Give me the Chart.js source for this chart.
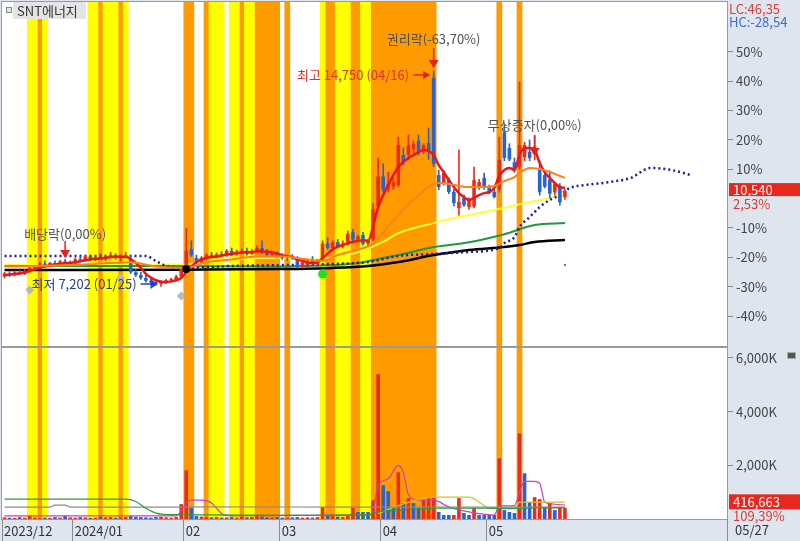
<!DOCTYPE html>
<html><head><meta charset="utf-8">
<script src="https://cdn.jsdelivr.net/npm/chart.js@4.4.1/dist/chart.umd.min.js"></script>
<style>
html,body{margin:0;padding:0;background:#dfe5ee;}
#wrap{position:relative;width:800px;height:541px;overflow:hidden;background:#dfe5ee;}
canvas{position:absolute;left:0;}
#c1{top:0;} #c2{top:347px;}
.lbl{position:absolute;font-family:"Noto Sans CJK KR",sans-serif;font-size:13px;white-space:nowrap;line-height:14px;}
</style></head><body>
<div id="wrap">
<canvas id="c1" width="800" height="347"></canvas>
<canvas id="c2" width="800" height="194"></canvas>
<div style="position:absolute;left:6px;top:7px;width:4px;height:4px;border:1px solid #8a8a8a;background:#e4e4e4"></div>
<div class="lbl" style="left:13px;top:2px;width:73px;height:17px;line-height:17px;background:#e4e4e4;color:#333;padding-left:4px;box-sizing:border-box">SNT에너지</div>
<div class="lbl" style="left:729px;top:2px;color:#d9403a">LC:46,35</div>
<div class="lbl" style="left:729px;top:15px;color:#3c6ccc">HC:-28,54</div>
<div class="lbl" style="left:735px;top:523px;color:#333">05/27</div>
<div style="position:absolute;left:787px;top:352px;width:7px;height:5px;background:#555;border:1px solid #aaa"></div>
</div>
<script>
// ---------------- data ----------------
const monthLabels = ["2023/12","2024/01","02","03","04","05"];
const monthStart  = [0,14,36,55,75,96];   // slot index of first trading day of each month

const open = [7550,7650,7600,7700,7650,7750,7850,7900,8000,7950,8020,7980,8080,8000,
 8050,8150,8100,8250,8150,8220,8200,8250,8300,8200,8250,8150,7700,7600,7500,7400,7350,7300,7350,7420,7450,7550,7850,8500,
 8200,8050,8200,8300,8250,8330,8300,8450,8330,8420,8450,8350,8450,8550,8400,8300,8380,
 8250,8200,8250,8200,7900,7950,8100,8000,8150,8700,8550,8750,8600,8700,9100,8850,9000,8700,
 8850,10000,11050,10600,10700,10750,11800,11800,12000,12300,11950,12220,14500,
 11100,10820,10930,10510,9950,10300,9980,10000,10650,11000,10650,10510,10600,12600,12050,11550,11380,11730,11910,11850,11300,11100,10950,10500,10700,10330];
const high = [7700,7720,7750,7780,7800,7900,7950,8050,8100,8050,8100,8120,8150,8100,
 8200,8250,8300,8300,8280,8350,8300,8400,8350,8300,8400,8300,7800,7700,7600,7500,7450,7400,7450,7500,7600,7900,9250,8800,
 8300,8250,8350,8400,8380,8420,8500,8550,8480,8520,8550,8500,8620,8800,8500,8420,8420,
 8350,8300,8320,8250,8100,8150,8250,8150,8800,8900,8800,8850,8800,9150,9200,9000,9100,8850,
 10100,11700,11500,11200,11000,12430,12050,12500,12300,12500,12200,12750,14750,
 11280,11250,11000,10600,11980,10400,10300,11380,10950,11170,10750,10600,12430,12850,12200,11700,14360,12250,12330,12500,11600,11200,11250,10850,10800,10600];
const low = [7500,7550,7580,7620,7620,7700,7800,7850,7900,7900,7950,7950,7950,7950,
 8000,8050,8080,8100,8100,8150,8100,8200,8150,8100,8200,7650,7550,7450,7350,7280,7250,7202,7300,7350,7400,7500,7800,8250,
 8000,8000,8150,8200,8200,8250,8250,8280,8300,8350,8300,8320,8400,8350,8250,8250,8200,
 8150,8100,8150,7850,7850,7850,7950,7900,8100,8500,8500,8550,8550,8650,8800,8750,8650,8600,
 8800,9950,10500,10500,10600,10700,11450,11630,11800,11800,11850,11650,11400,
 10580,10750,10450,10020,9700,10000,9900,9950,10600,10600,10450,10300,10500,11600,11600,11200,11300,11600,11600,11630,10400,10650,10300,10400,10050,10250];
const close = [7650,7600,7700,7650,7750,7850,7900,8000,7950,8020,7980,8080,8000,8050,
 8150,8100,8250,8150,8220,8200,8250,8300,8200,8250,8280,7700,7600,7500,7400,7350,7300,7350,7420,7450,7550,7850,8450,8300,
 8050,8200,8300,8250,8330,8300,8450,8330,8420,8450,8350,8450,8550,8400,8300,8380,8250,
 8200,8250,8200,7900,8050,8100,8000,8100,8700,8550,8750,8600,8700,9050,8850,8950,8700,8800,
 9900,11050,10600,10800,10850,12150,11520,12150,12200,11900,12150,11980,11500,
 10680,11170,10510,10120,10160,10050,10230,10930,10860,10650,10470,10330,11630,11700,11650,11280,12150,12150,11700,12100,10500,10700,10450,10800,10150,10540];

// short moving-average line (red), one reading per trading day
const redLine = [7600,7620,7640,7660,7690,7750,7800,7860,7900,7940,7970,8000,8010,8020,
 8050,8080,8120,8150,8170,8180,8200,8230,8240,8240,8250,8150,8030,7850,7640,7510,7420,7370,7360,7380,7420,7500,7700,7900,
 8050,8150,8200,8230,8250,8280,8320,8340,8370,8390,8400,8400,8440,8430,8420,8400,8350,
 8300,8260,8230,8150,8100,8050,8020,8040,8200,8350,8500,8600,8650,8720,8760,8800,8820,8800,
 9300,9980,10400,10750,11100,11380,11560,11700,11800,11900,11980,11940,11800,
 11450,11200,10930,10680,10470,10330,10230,10300,10400,10470,10500,10650,11070,11280,11350,11280,11800,12050,12050,11980,11520,11200,11000,10820,10680,10650];
// longer averages read at selected days: [slot, price]
const orangeLine = [[0,7900],[14,7950],[25,8050],[30,7900],[36,7850],[40,8050],[45,8150],[50,8250],[55,8250],[60,8150],[63,8100],[66,8300],[70,8500],[73,8700],[76,9300],[79,9900],[82,10400],[85,10800],[86,10820],[88,10790],[90,10720],[92,10680],[95,10680],[97,10720],[99,10890],[101,11030],[102,11170],[104,11350],[106,11310],[108,11210],[110,11070],[111,11000]];
const yellowLine = [[0,7950],[14,7980],[30,7950],[36,7980],[45,8150],[55,8200],[62,8150],[66,8250],[70,8400],[75,8760],[78,9070],[85,9420],[90,9630],[97,9880],[104,10160],[109,10330],[111,10400]];
const greenLine  = [[0,7920],[30,7920],[55,7900],[65,7950],[70,8020],[75,8200],[78,8300],[85,8580],[92,8750],[99,9030],[105,9350],[111,9420]];
const blackLine  = [[0,7780],[36,7790],[55,7810],[65,7850],[72,7920],[78,8060],[85,8300],[92,8480],[99,8580],[102,8650],[105,8760],[111,8830]];
const leadLine   = [[0,8270],[28,8270],[30,8090],[32,7920],[35,7850],[45,7920],[55,7950],[65,7990],[72,8060],[78,8270],[85,8340],[92,8410],[98,8550],[99,8720],[101,8930],[102,9280],[104,9630],[106,9980],[108,10230],[110,10400],[112,10650],[115,10750],[120,10860],[124,11000],[128,11350],[132,11280],[136,11100]];

// signal markers [slot, price]
const grayMarks  = [[5,7078],[23,7500],[35,6868]];
const blackMarks = [[36,7813]];
const greenMarks = [[63,7638]];
const pinkMarks  = [[111,7953]];

// highlighted days (background stripes)
const yellowDays = [5,6,8,17,18,20,21,22,24,41,42,43,45,46,48,49,63,66,67,68,71,72];
const orangeDays = [7,19,23,36,37,40,47,50,51,52,53,54,56,64,65,69,70,73,74,75,76,77,78,79,80,81,82,83,84,85,98,102];

// volume in thousands of shares
const volK = [60,50,40,70,50,110,60,40,50,40,70,50,110,60,
 50,70,60,40,50,80,60,70,50,60,70,110,80,70,60,50,70,80,60,50,70,
 555,1815,407,
 110,90,70,60,80,50,60,70,50,80,60,70,110,90,60,50,70,
 50,40,60,70,50,60,50,70,
 444,150,110,90,80,110,407,260,260,260,700,
 5400,1260,1037,444,1740,593,778,593,407,704,778,815,
 260,150,150,150,778,222,150,407,150,150,150,150,2260,333,260,222,3185,1704,630,815,740,444,593,333,444,416.663];
const volDir = ("rbrbrrrrbrbrbr"+"rbrbrbrrbrr"+"bbbbbb"+"rrrrrr"+"b"+"brrbrbrbrrbrrbbrb"+"brbbrrbrrbrbrrrbbbr"+"rbbbrbrbbrrrbbbrrbbrbbbbrbbbrbbrrbrbrr").split('');
const volGreen = [[0,740],[24,740],[26,650],[28,400],[30,220],[33,160],[40,150],[60,140],[72,150],[74,260],[78,330],[85,400],[95,400],[100,390],[105,410],[111,420]];
const volGray  = [[0,444],[9,444],[10,520],[12,520],[13,444],[35,444],[36,450],[72,444],[85,444],[111,444]];
const volPink  = [[0,120],[34,120],[35,300],[36,600],[37,700],[39,700],[41,600],[43,200],[45,120],[72,150],[73,300],[74,1260],[76,1500],[78,2000],[79,1740],[80,900],[82,700],[85,700],[88,450],[91,300],[94,200],[97,150],[98,480],[101,500],[102,1000],[103,1400],[105,1400],[106,1333],[107,630],[109,550],[111,520]];
const volOlive = [[74,200],[78,500],[85,815],[92,815],[95,500],[96,407],[101,407],[102,630],[111,630]];

const BASE = 10280;                     // 0% reference price of right axis
const PCT_TICKS = [-40,-30,-20,-10,10,20,30,40,50];
const PRICE_MIN = 5119, PRICE_MAX = 17157;
const VOL_MAX = 6370, VOL_TICKS = [2000,4000,6000];
const X_MIN = -0.5, X_MAX = 143.1;
const CHANGE_TEXT = "2,53%";
const VOL_CHANGE_TEXT = "109,39%";

const downNotes = [
  {slot:85, tip:14848, textAt:15863, text:"권리락(-63,70%)"},
  {slot:105, tip:11768, textAt:12853, text:"무상증자(0,00%)"},
  {slot:12, tip:8198, textAt:9038, text:"배당락(0,00%)"}
];
const sideNotes = [
  {slot:85, price:14603, text:"최고 14,750 (04/16)", kind:"hi"},
  {slot:31, price:7288, text:"최저 7,202 (01/25)", kind:"lo"}
];

// ---------------- styles ----------------
const UP = '#ee2a1c', DOWN = '#2a62cf', YEL = '#ffff00', ORG = '#ff9a00';
const FONT = '"Noto Sans CJK KR", sans-serif';
Chart.defaults.font.family = FONT;
Chart.defaults.font.size = 13;
Chart.defaults.color = '#444';

const N = close.length;
const idx = [...Array(N).keys()];
const pts = arr => arr.map(p => ({x:p[0], y:p[1]}));
const candleCol = idx.map(i => close[i] >= open[i] ? UP : DOWN);

function stripeSets(){
  return [
    {type:'bar', data:yellowDays.map(s=>({x:s,y:1})), yAxisID:'yS', backgroundColor:YEL, borderWidth:0, barPercentage:1, categoryPercentage:1, grouped:false, order:100},
    {type:'bar', data:orangeDays.map(s=>({x:s,y:1})), yAxisID:'yS', backgroundColor:ORG, borderWidth:0, barPercentage:1, categoryPercentage:1, grouped:false, order:100}
  ];
}
const xTicks = s => { s.ticks = monthStart.map(m => ({value: m - 0.5})); };
const fitY = s => { s.width = 73; s.paddingTop = 0; s.paddingBottom = 0; };
const fitX = h => s => { s.height = h; s.paddingLeft = 0; s.paddingRight = 0; };

const frame = {
  id:'frame',
  beforeDraw(c){ const a=c.chartArea, g=c.ctx; g.save(); g.fillStyle='#fff'; g.fillRect(a.left,a.top,a.right-a.left,a.bottom-a.top); g.restore(); },
  afterDraw(c){ const a=c.chartArea, g=c.ctx; g.save(); g.strokeStyle='#9a9a9a'; g.lineWidth=1;
    g.strokeRect(a.left-0.5,a.top-0.5,a.right-a.left+1,a.bottom-a.top+1); g.restore(); }
};

function lineSet(data, color, width, order, extra){
  return Object.assign({type:'line', data, borderColor:color, borderWidth:width, pointRadius:0, cubicInterpolationMode:'monotone', fill:false, yAxisID:'y', order}, extra||{});
}
function markSet(data, style, r, color, order){
  return {type:'line', data:pts(data), showLine:false, pointStyle:style, pointRadius:r, pointBackgroundColor:color, pointBorderColor:color, pointBorderWidth:0, yAxisID:'y', order};
}

const notes = {
  id:'notes',
  afterDatasetsDraw(c){
    const g=c.ctx, x=c.scales.x, y=c.scales.y;
    g.save(); g.font='13px '+FONT; g.textBaseline='middle';
    downNotes.forEach(n=>{
      const px=x.getPixelForValue(n.slot), tip=y.getPixelForValue(n.tip), ty=y.getPixelForValue(n.textAt);
      const top=Math.max(tip-20, ty+7);
      g.strokeStyle='#e8201a'; g.lineWidth=1.5;
      g.beginPath(); g.moveTo(px,top); g.lineTo(px,tip-6); g.stroke();
      g.fillStyle='#e8201a'; g.beginPath(); g.moveTo(px-5,tip-8); g.lineTo(px+5,tip-8); g.lineTo(px,tip); g.closePath(); g.fill();
      g.fillStyle='#505050'; g.textAlign='center'; g.fillText(n.text,px,ty);
    });
    sideNotes.forEach(n=>{
      const tip=x.getPixelForValue(n.slot)-3.5, py=y.getPixelForValue(n.price);
      const col = n.kind==='hi' ? '#e8201a' : '#1f3fd6';
      g.strokeStyle=col; g.lineWidth=1.5;
      g.beginPath(); g.moveTo(tip-17,py); g.lineTo(tip-5,py); g.stroke();
      g.fillStyle=col; g.beginPath();
      const h = n.kind==='hi' ? 4 : 5;
      g.moveTo(tip-7,py-h); g.lineTo(tip,py); g.lineTo(tip-7,py+h); g.closePath(); g.fill();
      g.fillStyle = n.kind==='hi' ? '#e0302a' : '#27408f';
      g.textAlign='right'; g.fillText(n.text, tip-21, py);
    });
    g.restore();
  },
  afterDraw(c){
    const g=c.ctx, y=c.scales.y, a=c.chartArea;
    const yc=y.getPixelForValue(close[N-1]);
    g.save(); g.font='13px '+FONT; g.textBaseline='middle'; g.textAlign='left';
    g.fillStyle='#e8281e'; g.fillRect(a.right+2, yc-8, 71, 13);
    g.fillStyle='#fff'; g.fillText(close[N-1].toLocaleString('en-US'), a.right+6, yc-1.5);
    g.fillStyle='#e03a30'; g.fillText(CHANGE_TEXT, a.right+6, yc+13);
    g.restore();
  }
};

const volNotes = {
  id:'volNotes',
  afterDraw(c){
    const g=c.ctx, y=c.scales.y, a=c.chartArea;
    const yv=y.getPixelForValue(volK[N-1]);
    g.save(); g.font='13px '+FONT; g.textBaseline='middle'; g.textAlign='left';
    g.fillStyle='#e8281e'; g.fillRect(a.right+2, yv-13.5, 71, 15);
    g.fillStyle='#fff'; g.fillText(Math.round(volK[N-1]*1000).toLocaleString('en-US'), a.right+6, yv-6);
    g.fillStyle='#e03a30'; g.fillText(VOL_CHANGE_TEXT, a.right+6, yv+8);
    g.strokeStyle='#8c8c8c'; g.lineWidth=1;
    g.beginPath(); g.moveTo(a.right+0.5, a.bottom); g.lineTo(a.right+0.5, c.height); g.stroke();
    g.restore();
  }
};

// ---------------- price chart ----------------
new Chart(document.getElementById('c1'), {
  type:'bar',
  data:{ datasets:[
    ...stripeSets(),
    lineSet(pts(blackLine), '#000000', 2.5, 60),
    lineSet(pts(greenLine), '#1c9a3c', 2, 60),
    lineSet(pts(yellowLine), '#ffff30', 2, 60),
    lineSet(pts(leadLine), '#1c1c9c', 2.5, 55, {borderDash:[2,3]}),
    {type:'bar', data:idx.map(i=>({x:i,y:[low[i],high[i]]})), yAxisID:'y', backgroundColor:candleCol, barThickness:1, grouped:false, order:50},
    {type:'bar', data:idx.map(i=>({x:i,y:[open[i],close[i]]})), yAxisID:'y', backgroundColor:candleCol, barPercentage:0.72, categoryPercentage:1, minBarLength:1, grouped:false, order:40},
    lineSet(pts(orangeLine), '#ff7f1a', 2, 30),
    lineSet(idx.map(i=>({x:i,y:redLine[i]})), '#f01414', 2.5, 30),
    markSet(grayMarks, 'rectRot', 4.5, '#b8b8b8', 10),
    markSet(blackMarks, 'circle', 4, '#000', 10),
    markSet(greenMarks, 'circle', 4.5, '#22e022', 10),
    markSet(pinkMarks, 'rect', 1.5, '#e05060', 10)
  ]},
  options:{
    responsive:false, animation:false, devicePixelRatio:1, events:[],
    layout:{autoPadding:false, padding:{left:2, top:2, right:0, bottom:1}},
    plugins:{legend:{display:false}, tooltip:{enabled:false}},
    scales:{
      x:{type:'linear', min:X_MIN, max:X_MAX, offset:false, afterBuildTicks:xTicks, afterFit:fitX(0),
         ticks:{display:false}, grid:{display:false, offset:false}, border:{display:false}},
      y:{type:'linear', position:'right', min:PRICE_MIN, max:PRICE_MAX, afterFit:fitY,
         afterBuildTicks:s=>{ s.ticks = PCT_TICKS.map(p=>({value:BASE*(1+p/100)})); },
         ticks:{callback:v=>Math.round((v/BASE-1)*100)+'%', color:'#444', padding:3, autoSkip:false},
         grid:{drawOnChartArea:false, tickLength:6, color:'#8a8a8a'}, border:{display:true, color:'#8a8a8a'}},
      yS:{type:'linear', display:false, min:0, max:1}
    }
  },
  plugins:[frame, notes]
});

// ---------------- volume chart ----------------
new Chart(document.getElementById('c2'), {
  type:'bar',
  data:{ datasets:[
    ...stripeSets(),
    {type:'bar', data:idx.map(i=>({x:i,y:volK[i]})), yAxisID:'y', backgroundColor:volDir.map(d=>d==='r'?UP:DOWN), barPercentage:0.72, categoryPercentage:1, grouped:false, order:40},
    lineSet(pts(volGreen), '#2a9a3a', 1.2, 20),
    lineSet(pts(volGray), '#8a8a8a', 1.2, 20),
    lineSet(pts(volOlive), '#cfc42a', 1.2, 20),
    lineSet(pts(volPink), '#d040b0', 1.2, 20)
  ]},
  options:{
    responsive:false, animation:false, devicePixelRatio:1, events:[],
    layout:{autoPadding:false, padding:{left:2, top:1, right:0, bottom:0}},
    plugins:{legend:{display:false}, tooltip:{enabled:false}},
    scales:{
      x:{type:'linear', position:'bottom', min:X_MIN, max:X_MAX, offset:false, afterBuildTicks:xTicks, afterFit:fitX(22),
         ticks:{callback:(v,i)=>monthLabels[i], align:'start', labelOffset:2, padding:-18, maxRotation:0, autoSkip:false, color:'#333'},
         grid:{drawOnChartArea:false, drawTicks:true, tickLength:22, color:'#8c8c8c', offset:false}, border:{display:true, color:'#8c8c8c'}},
      y:{type:'linear', position:'right', min:0, max:VOL_MAX, afterFit:fitY,
         afterBuildTicks:s=>{ s.ticks = VOL_TICKS.map(v=>({value:v})); },
         ticks:{callback:v=>v.toLocaleString('en-US')+'K', color:'#444', padding:3, autoSkip:false},
         grid:{drawOnChartArea:false, tickLength:6, color:'#8a8a8a'}, border:{display:true, color:'#8a8a8a'}},
      yS:{type:'linear', display:false, min:0, max:1}
    }
  },
  plugins:[frame, volNotes]
});
</script>
</body></html>
